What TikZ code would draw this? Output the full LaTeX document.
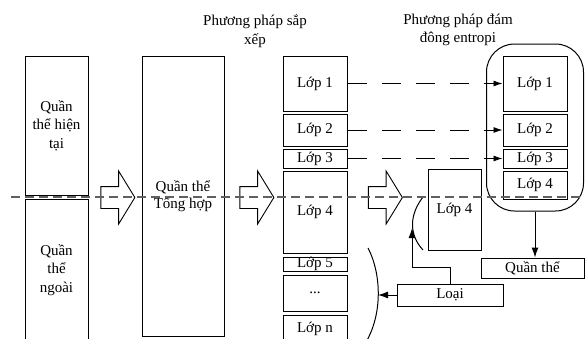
\documentclass[tikz,border=0pt]{standalone}
\usepackage{fontspec}
\setmainfont{Liberation Serif}
\usetikzlibrary{positioning,arrows.meta,shapes.arrows,fit}

\begin{document}
\begin{tikzpicture}[x=1pt, y=-1pt,
    boxStyle/.style={rectangle, draw=black, line width=1pt, inner sep=0pt, align=center, font=\fontsize{15}{18.5}\selectfont},
    layerBox/.style={boxStyle, minimum width=64pt},
    blockArrow/.style={single arrow, draw=black, line width=0.9pt, inner xsep=0pt, inner ysep=10.5pt, minimum height=34pt, minimum width=0pt, single arrow head extend=15.5pt, single arrow tip angle=117},
    dashArrow/.style={-{Latex[length=9pt,width=6pt]}, line width=0.9pt, dash pattern=on 19pt off 15pt},
    arrowStyle/.style={-{Latex[length=10pt,width=7pt]}, line width=1pt},
    titleStyle/.style={align=center, font=\fontsize{15}{18.5}\selectfont}
]
    \useasboundingbox (0,0) rectangle (585,338);

    % titles
    \node[titleStyle] (sortTitle) at (255,31) {Phương pháp sắp\\xếp};
    \node[titleStyle] (crowdTitle) at (458,30) {Phương pháp đám\\đông entropi};

    % populations
    \node[boxStyle, minimum width=63pt, minimum height=139pt] (cur) at (56.5,125.5) {Quần\\thể hiện\\tại};
    \node[boxStyle, minimum width=63pt, minimum height=142pt] (ext) at (56.5,270) {Quần\\thể\\ngoài};
    \node[boxStyle, minimum width=82pt, minimum height=280pt] (pool) at (183,196) {Quần thể\\[-2pt]Tổng hợp};

    % sorted layers
    \node[layerBox, minimum height=55pt] (s1) at (315,83.5) {Lớp 1};
    \node[layerBox, minimum height=32pt, below=2pt of s1] (s2) {Lớp 2};
    \node[layerBox, minimum height=19pt, below=2pt of s2] (s3) {Lớp 3};
    \node[layerBox, minimum height=82pt, below=2pt of s3] (s4) {Lớp 4};
    \node[layerBox, minimum height=14pt, below=3pt of s4] (s5) {Lớp 5};
    \node[layerBox, minimum height=36pt, below=3pt of s5] (sdots) {...};
    \node[layerBox, minimum height=28pt, below=3pt of sdots] (sn) {Lớp n};

    % chosen layers
    \node[layerBox, minimum height=55pt] (e1) at (535,83.5) {Lớp 1};
    \node[layerBox, minimum height=32pt, below=2pt of e1] (e2) {Lớp 2};
    \node[layerBox, minimum height=19pt, below=2pt of e2] (e3) {Lớp 3};
    \node[layerBox, minimum height=28pt, below=2pt of e3] (e4) {Lớp 4};
    \node[draw, line width=1pt, rounded corners=28pt, inner xsep=16pt, inner ysep=11.5pt, fit=(e1)(e4)] (group) {};

    \node[boxStyle, minimum width=53pt, minimum height=81pt] (mid4) at (454.5,209.5) {Lớp 4};
    \node[boxStyle, minimum width=103pt, minimum height=20pt] (qt) at (532.5,268) {Quần thể};
    \node[boxStyle, minimum width=106pt, minimum height=22pt] (loai) at (450,295) {Loại};

    % block arrows
    \node[blockArrow] (ba1) at (114.5,197.5) {};
    \node[blockArrow] (ba2) at (253.5,197.5) {};
    \node[blockArrow] (ba3) at (382,197.5) {};

    % brackets
    \draw[line width=1pt] (423,197) .. controls (409,215) and (409,235) .. (423,250);
    \draw[line width=1pt] (368,248) .. controls (382,275) and (382,315) .. (366,342);
    \coordinate (arcA) at (412,228);
    \coordinate (arcB) at (378,295);
    \coordinate (bendL) at (412,267);

    \draw[dashArrow] (s1.east) -- (e1.west);
    \draw[dashArrow] (s2.east) -- (e2.west);
    \draw[dashArrow] (s3.east) -- (e3.west);
    \draw[arrowStyle] (group.south) -- (group.south |- qt.north);
    \draw[arrowStyle] (loai.north) |- (bendL) -- (arcA);
    \draw[arrowStyle] (loai.west) -- (arcB);

    % cut line
    \coordinate (cutL) at (11,197);
    \coordinate (cutR) at (585,197);
    \draw[gray!75!black, line width=1.3pt, dash pattern=on 9pt off 5pt] (cutL) -- (cutR);
\end{tikzpicture}
\end{document}
